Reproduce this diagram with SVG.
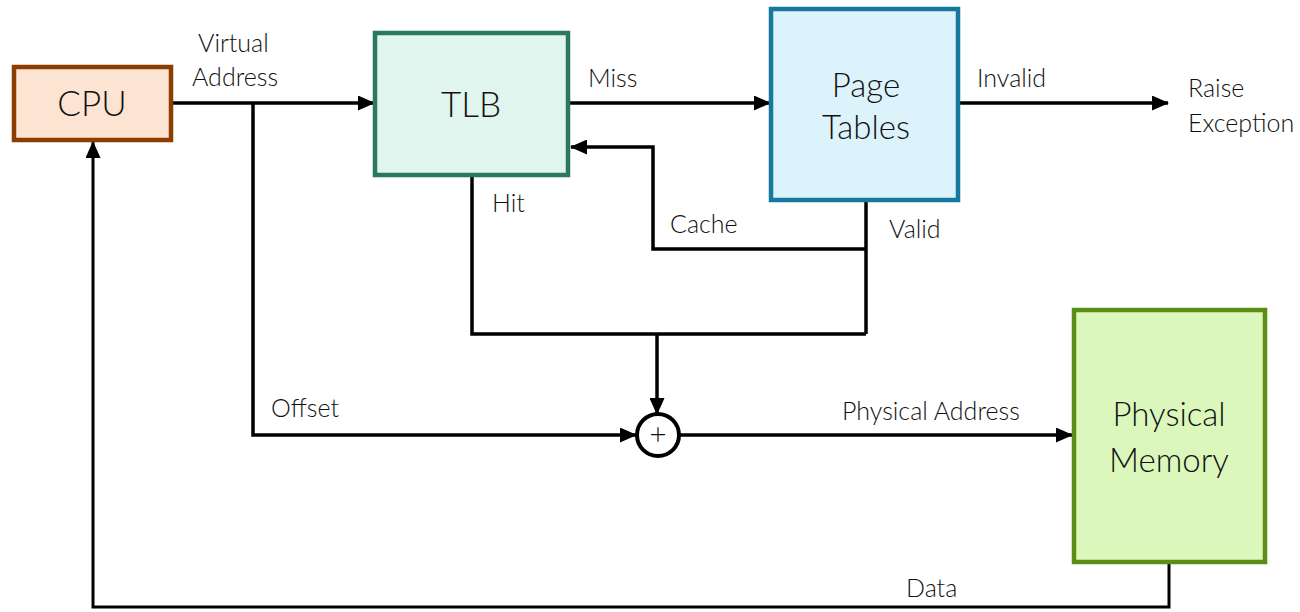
<svg xmlns="http://www.w3.org/2000/svg" width="1300" height="612" viewBox="0 0 1300 612">
<defs>
<marker id="ah" markerUnits="userSpaceOnUse" markerWidth="17" markerHeight="15" refX="16" refY="7.5" orient="auto">
<path d="M0,0 L17,7.5 L0,15 Z" fill="#000"/>
</marker>
<style>
.box{stroke-width:4.5}
.big{font-family:Lato,"Open Sans",sans-serif;font-size:33px;fill:#111;text-anchor:middle;font-weight:300}
.big2{font-size:35px}
.lbl{font-family:Lato,"Open Sans",sans-serif;font-size:25px;fill:#111;font-weight:300}
.ln{fill:none;stroke:#000;stroke-width:3.5}
.thin{fill:none;stroke:#000;stroke-width:3}
</style>
</defs>
<rect width="1300" height="612" fill="#fff"/>
<g id="connectors">
<line class="ln" x1="173" y1="103" x2="374" y2="103" marker-end="url(#ah)"/>
<line class="ln" x1="569" y1="103" x2="770" y2="103" marker-end="url(#ah)"/>
<line class="ln" x1="959" y1="103" x2="1168" y2="103" marker-end="url(#ah)"/>
<polyline class="ln" points="866,249 653,249 653,147 571,147" marker-end="url(#ah)"/>
<polyline class="ln" points="472,177 472,334 866,334"/>
<line class="ln" x1="866" y1="201" x2="866" y2="334"/>
<line class="ln" x1="657" y1="334" x2="657" y2="414" marker-end="url(#ah)"/>
<polyline class="ln" points="253,103 253,435 636,435" marker-end="url(#ah)"/>
<line class="ln" x1="679" y1="435" x2="1072" y2="435" marker-end="url(#ah)"/>
<polyline class="thin" points="1169,564 1169,607 93,607 93,142" marker-end="url(#ah)"/>
<circle cx="658" cy="435" r="21" fill="#fff" stroke="#000" stroke-width="4"/>
<text x="658" y="445" style="font-family:Lato,sans-serif;font-size:30px;font-weight:300;text-anchor:middle;fill:#111">+</text>
</g>
<g id="cpu">
<rect class="box" x="14" y="67" width="157" height="73" fill="#FDE4D2" stroke="#8B3E00"/>
<text class="big big2" x="92" y="116">CPU</text>
</g>
<g id="tlb">
<rect class="box" x="375" y="33" width="193" height="142" fill="#DFF5EE" stroke="#2A7860"/>
<text class="big big2" x="471" y="117">TLB</text>
</g>
<g id="pagetables">
<rect class="box" x="771" y="9" width="187" height="191" fill="#DCF3FC" stroke="#16789E"/>
<text class="big" x="866" y="97">Page</text>
<text class="big" x="866" y="139">Tables</text>
</g>
<g id="physmem">
<rect class="box" x="1074" y="310" width="191" height="252" fill="#DCF7BC" stroke="#5A8E14"/>
<text class="big" x="1169" y="426">Physical</text>
<text class="big" x="1169" y="472">Memory</text>
</g>
<g id="labels">
<text class="lbl" x="198" y="52">Virtual</text>
<text class="lbl" x="192" y="86">Address</text>
<text class="lbl" x="588" y="87">Miss</text>
<text class="lbl" x="492" y="212">Hit</text>
<text class="lbl" x="670" y="233">Cache</text>
<text class="lbl" x="889" y="238">Valid</text>
<text class="lbl" x="977" y="87">Invalid</text>
<text class="lbl" x="1188" y="97">Raise</text>
<text class="lbl" x="1188" y="132">Exception</text>
<text class="lbl" x="271" y="417">Offset</text>
<text class="lbl" x="842" y="420">Physical Address</text>
<text class="lbl" x="906" y="597">Data</text>
</g>
</svg>
